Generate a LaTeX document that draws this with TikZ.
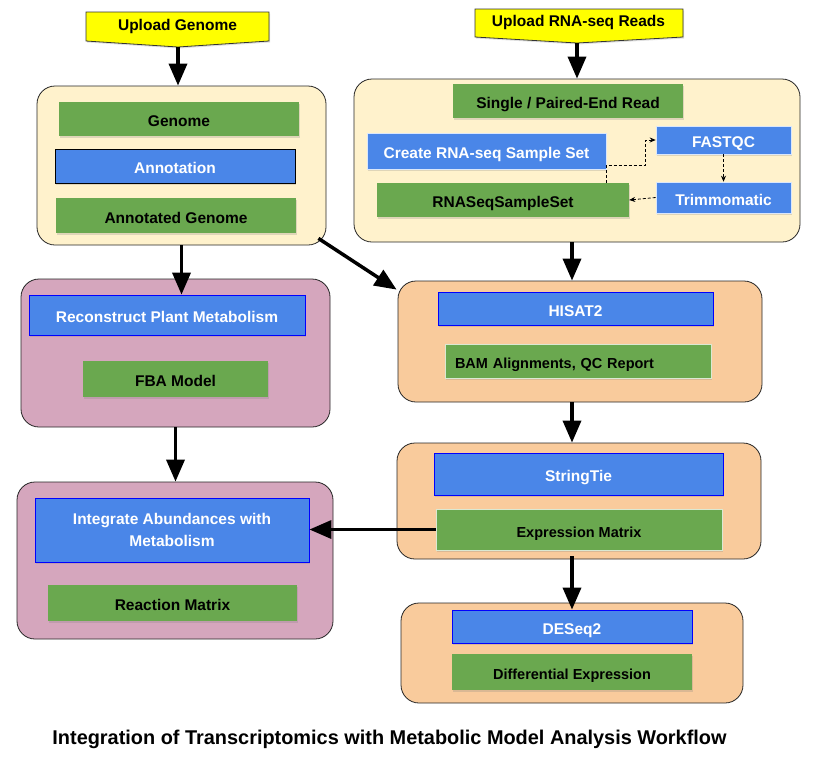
\documentclass[tikz,border=0pt]{standalone}
\usepackage{fontspec}
\setmainfont{Liberation Sans}
\usetikzlibrary{arrows.meta,shadows,calc}
\definecolor{grn}{HTML}{6AA84F}
\definecolor{blu}{HTML}{4A86E8}
\definecolor{ylw}{HTML}{FFFF00}
\definecolor{ltylw}{HTML}{FFF2CC}
\definecolor{purp}{HTML}{D5A6BD}
\definecolor{orng}{HTML}{F9CB9C}
\begin{document}
\begin{tikzpicture}[x=1pt,y=-1pt,
  sz/.style 2 args={minimum width=#1pt, minimum height=#2pt},
  container/.style={draw=black!85, line width=0.8pt, rounded corners=18pt, inner sep=0pt},
  txt/.style={font=\bfseries\fontsize{15.5}{22}\selectfont},
  smalltxt/.style={font=\bfseries\fontsize{14.5}{18}\selectfont},
  shad/.style={drop shadow={opacity=0.25, shadow xshift=1pt, shadow yshift=-1.5pt}},
  lower/.style={text height=15pt, text depth=0pt},
  gbox/.style={fill=grn, text=black, inner sep=0pt, txt, shad, lower},
  bbox/.style={fill=blu, text=white, inner sep=0pt, txt, shad, lower},
  bline/.style={draw=blue, line width=0.8pt},
  kline/.style={draw=black, line width=0.8pt},
  lline/.style={draw=white!80!blu, line width=0.6pt},
  wline/.style={draw=white!75!grn, line width=0.8pt},
  bigarrow/.style={line width=3.5pt, -{Triangle[length=22pt,width=18pt]}},
  dasharrow/.style={line width=0.8pt, dash pattern=on 3pt off 2pt, -{Stealth[length=6pt,width=5pt]}},
  banner/.style={draw=black!80, line width=0.8pt, fill=ylw, shad}
]
\useasboundingbox (0,0) rectangle (818,764);

% --- upload banners
\draw[banner] (86,12) -- (269,12) -- (269,41) -- (178,47) -- (86,41) -- cycle;
\coordinate (ugtip) at (178,47);
\node[txt] (ug) at (177.5,26) {Upload Genome};
\draw[banner] (475,9) -- (683,9) -- (683,37) -- (577,43) -- (475,37) -- cycle;
\coordinate (urtip) at (577,43);
\node[txt] (ur) at (578.5,22) {Upload RNA-seq Reads};

% --- containers
\node[container, fill=ltylw, sz={289}{159}] (ltop) at (181.5,165.5) {};
\node[container, fill=ltylw, sz={446}{163}] (rtop) at (577,160.5) {};
\node[container, fill=purp, sz={309}{148}] (p1) at (175.5,353) {};
\node[container, fill=purp, sz={316}{157}] (p2) at (175,560.5) {};
\node[container, fill=orng, sz={364}{121}] (hisbox) at (580,341.5) {};
\node[container, fill=orng, sz={364}{116}] (sbox) at (579,501) {};
\node[container, fill=orng, sz={342}{100}] (desbox) at (572,653) {};

% --- left top
\node[gbox, sz={240}{34}] (genome) at (179,119) {Genome};
\node[bbox, kline, sz={240}{34}] (annot) at (175,166) {Annotation};
\node[gbox, sz={240}{35}] (agen) at (176,215.5) {Annotated Genome};

% --- right top
\node[gbox, sz={230}{34}] (single) at (568,101) {Single / Paired-End Read};
\node[bbox, lline, sz={239}{36}] (create) at (486.5,151) {Create RNA-seq Sample Set};
\node[gbox, sz={252}{34}] (rss) at (503,200) {RNASeqSampleSet};
\node[bbox, lline, sz={135}{28}] (fastqc) at (723.5,140) {FASTQC};
\node[bbox, lline, sz={135}{31}] (trim) at (723.5,197.5) {Trimmomatic};

% --- purple
\node[bbox, bline, sz={276}{40}] (recon) at (167,315) {Reconstruct Plant Metabolism};
\node[gbox, sz={185}{36}] (fba) at (175.5,379) {FBA Model};
\node[bbox, bline, sz={274}{64}, align=center, text height=, text depth=] (integ) at (172,530) {Integrate Abundances with\\Metabolism};
\node[gbox, sz={249}{36}] (react) at (172.5,603) {Reaction Matrix};

% --- orange
\node[bbox, bline, sz={275}{33}] (hisat) at (575.5,308.5) {HISAT2};
\node[gbox, wline, smalltxt, minimum height=34pt, text width=246pt, inner xsep=10pt, align=left] (bam) at (578,361) {BAM Alignments, QC Report};
\node[bbox, bline, sz={289}{42}] (stie) at (578.5,474) {StringTie};
\node[gbox, wline, smalltxt, sz={286}{41}] (expr) at (579,529.5) {Expression Matrix};
\node[bbox, bline, sz={240}{33}] (deseq) at (572,626.5) {DESeq2};
\node[gbox, smalltxt, sz={240}{36}] (diff) at (572,672) {Differential Expression};

% --- title
\node[anchor=base, font=\bfseries\fontsize{19.9}{24}\selectfont] (title) at (389.5,744) {Integration of Transcriptomics with Metabolic Model Analysis Workflow};

% --- big arrows
\draw[bigarrow] (ugtip) -- (ugtip |- ltop.north);
\draw[bigarrow] (urtip) -- (urtip |- rtop.north);
\draw[bigarrow] (rtop.south -| desbox.north) -- (hisbox.north -| desbox.north);
\coordinate (diagstart) at ($(ltop.south east)+(-8,-7)$);
\coordinate (diagend) at ($(hisbox.north west)+(-1,9)$);
\draw[bigarrow] (diagstart) -- (diagend);
\draw[bigarrow] (ltop.south) -- (ltop.south |- recon.north);
\draw[bigarrow] (p1.south) -- (p1.south |- p2.north);
\draw[bigarrow] (expr.west) -- (expr.west -| integ.east);
\draw[bigarrow] (hisbox.south -| desbox.north) -- (sbox.north -| desbox.north);
\draw[bigarrow] ($(sbox.south -| desbox.north)+(0,-3)$) -- (deseq.north);

% --- dashed connectors
\coordinate (dmid) at (645,165);
\draw[dasharrow] (rss.north -| create.east) |- (dmid) |- (fastqc.west);
\draw[dasharrow] (fastqc.south) -- (trim.north);
\draw[dasharrow] (trim.west) -- (rss.east);
\end{tikzpicture}
\end{document}
